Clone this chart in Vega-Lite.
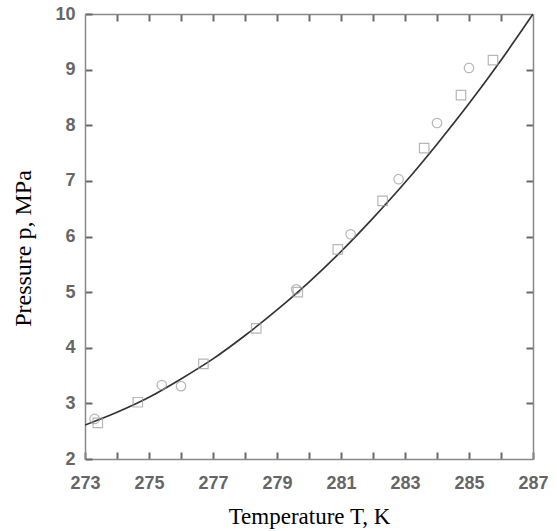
{
  "$schema": "https://vega.github.io/schema/vega-lite/v6.json",
  "autosize": "none",
  "width": 448,
  "height": 445,
  "padding": {"left": 85, "top": 14, "right": 24, "bottom": 72},
  "background": "white",
  "config": {
    "view": {"stroke": null},
    "axis": {
      "grid": false,
      "domainColor": "#888888",
      "domainWidth": 1.5,
      "labelFont": "Liberation Sans",
      "labelFontSize": 18,
      "labelFontWeight": "bold",
      "labelColor": "#666666",
      "titleFont": "Liberation Serif",
      "titleFontWeight": "normal",
      "titleColor": "#000000"
    }
  },
  "datasets": {
    "curve": [
      {"T": 273, "p": 2.61},
      {"T": 274, "p": 2.84},
      {"T": 275, "p": 3.11},
      {"T": 276, "p": 3.44},
      {"T": 277, "p": 3.8},
      {"T": 278, "p": 4.22},
      {"T": 279, "p": 4.68},
      {"T": 280, "p": 5.18},
      {"T": 281, "p": 5.73},
      {"T": 282, "p": 6.33},
      {"T": 283, "p": 6.97},
      {"T": 284, "p": 7.66},
      {"T": 285, "p": 8.39},
      {"T": 286, "p": 9.17},
      {"T": 287, "p": 10.0}
    ],
    "points": [
      {"T": 273.3, "p": 2.72, "series": "circle"},
      {"T": 275.4, "p": 3.33, "series": "circle"},
      {"T": 276.0, "p": 3.31, "series": "circle"},
      {"T": 279.6, "p": 5.05, "series": "circle"},
      {"T": 281.3, "p": 6.04, "series": "circle"},
      {"T": 282.8, "p": 7.03, "series": "circle"},
      {"T": 284.0, "p": 8.04, "series": "circle"},
      {"T": 285.0, "p": 9.03, "series": "circle"},
      {"T": 273.4, "p": 2.65, "series": "square"},
      {"T": 274.65, "p": 3.02, "series": "square"},
      {"T": 276.7, "p": 3.71, "series": "square"},
      {"T": 278.35, "p": 4.35, "series": "square"},
      {"T": 279.65, "p": 5.0, "series": "square"},
      {"T": 280.9, "p": 5.77, "series": "square"},
      {"T": 282.3, "p": 6.64, "series": "square"},
      {"T": 283.6, "p": 7.59, "series": "square"},
      {"T": 284.75, "p": 8.54, "series": "square"},
      {"T": 285.75, "p": 9.17, "series": "square"}
    ]
  },
  "layer": [
    {
      "data": {"name": "curve"},
      "mark": {"type": "line", "color": "#333333", "strokeWidth": 1.7, "interpolate": "monotone", "clip": true},
      "encoding": {
        "x": {
          "field": "T", "type": "quantitative",
          "scale": {"domain": [273, 287], "nice": false, "zero": false},
          "axis": {
            "orient": "bottom",
            "values": [273, 274, 275, 276, 277, 278, 279, 280, 281, 282, 283, 284, 285, 286, 287],
            "labelExpr": "datum.value % 2 == 1 ? datum.label : ''",
            "ticks": true, "tickSize": -7, "tickColor": "dimgray", "tickWidth": 2,
            "labelPadding": 22,
            "labelFlush": false,
            "title": "Temperature T, K",
            "titleFontSize": 23,
            "titleBaseline": "alphabetic",
            "titleX": 224,
            "titleY": 64
          }
        },
        "y": {
          "field": "p", "type": "quantitative",
          "scale": {"domain": [2, 10], "nice": false, "zero": false},
          "axis": {
            "orient": "left",
            "values": [2, 3, 4, 5, 6, 7, 8, 9, 10],
            "ticks": true, "tickSize": -7, "tickColor": "dimgray", "tickWidth": 2,
            "labelPadding": 17,
            "labelFlush": false,
            "title": "Pressure p, MPa",
            "titleFontSize": 24,
            "titleAngle": -90,
            "titleAlign": "center",
            "titleBaseline": "middle",
            "titleX": -62,
            "titleY": 234
          }
        }
      }
    },
    {
      "data": {"name": "points"},
      "mark": {"type": "point", "filled": false, "strokeWidth": 1.2, "size": 90},
      "encoding": {
        "x": {
          "field": "T", "type": "quantitative",
          "scale": {"domain": [273, 287], "nice": false, "zero": false},
          "axis": {
            "orient": "top", "labels": false, "title": null,
            "ticks": true, "tickSize": -7, "tickColor": "dimgray", "tickWidth": 2,
            "values": [274, 275, 276, 277, 278, 279, 280, 281, 282, 283, 284, 285, 286]
          }
        },
        "y": {
          "field": "p", "type": "quantitative",
          "scale": {"domain": [2, 10], "nice": false, "zero": false},
          "axis": {
            "orient": "right", "labels": false, "title": null,
            "ticks": true, "tickSize": -7, "tickColor": "dimgray", "tickWidth": 2,
            "values": [3, 4, 5, 6, 7, 8, 9]
          }
        },
        "shape": {
          "field": "series", "type": "nominal",
          "scale": {"domain": ["circle", "square"], "range": ["circle", "square"]},
          "legend": null
        },
        "color": {"value": "#999999"}
      }
    }
  ],
  "resolve": {"axis": {"x": "independent", "y": "independent"}}
}
